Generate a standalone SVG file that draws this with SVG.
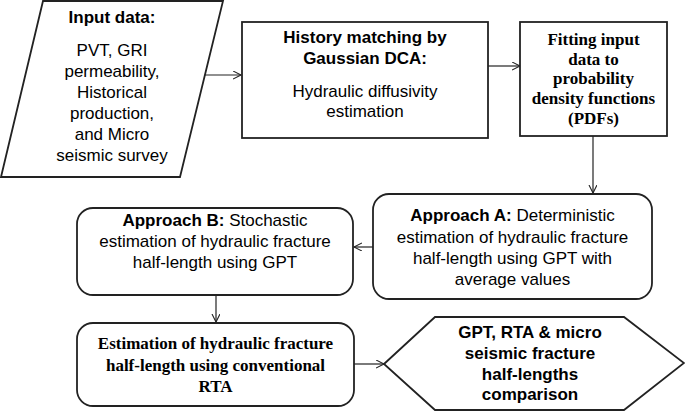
<svg xmlns="http://www.w3.org/2000/svg" width="685" height="412" viewBox="0 0 685 412">
<defs>
<marker id="arr" markerWidth="10" markerHeight="10" refX="8" refY="4" orient="auto" markerUnits="userSpaceOnUse">
<path d="M0,0 L8,4 L0,8" fill="none" stroke="#222" stroke-width="1.1"/>
</marker>
<style>
.box{fill:#fff;stroke:#222;stroke-width:1.8}
.con{fill:none;stroke:#222;stroke-width:1.2;marker-end:url(#arr)}
.a{font-family:"Liberation Sans",Arial,sans-serif;font-size:17px;fill:#000;text-anchor:middle}
.ab{font-family:"Liberation Sans",Arial,sans-serif;font-size:17px;font-weight:bold;fill:#000;text-anchor:middle}
.t{font-family:"Liberation Serif","Times New Roman",serif;font-size:17px;font-weight:bold;fill:#000;text-anchor:middle}
</style>
</defs>
<rect width="685" height="412" fill="#fff"/>
<g id="connectors">
<line class="con" x1="205" y1="75" x2="241" y2="75"/>
<line class="con" x1="488" y1="66" x2="520" y2="66"/>
<line class="con" x1="593" y1="136" x2="593" y2="193"/>
<line class="con" x1="373" y1="247" x2="354" y2="247"/>
<line class="con" x1="216" y1="295" x2="216" y2="322"/>
<line class="con" x1="354" y1="364" x2="384" y2="364"/>
</g>
<g id="input">
<polygon class="box" points="43,1 223,1 180,177 1,177"/>
<text class="ab" x="112" y="23">Input data:</text>
<text class="a" x="112" y="56">PVT, GRI</text>
<text class="a" x="112" y="77">permeability,</text>
<text class="a" x="112" y="98">Historical</text>
<text class="a" x="112" y="119">production,</text>
<text class="a" x="112" y="140">and Micro</text>
<text class="a" x="112" y="161">seismic survey</text>
</g>
<g id="history">
<rect class="box" x="242" y="22" width="246" height="116"/>
<text class="ab" x="365" y="43">History matching by</text>
<text class="ab" x="365" y="64">Gaussian DCA:</text>
<text class="a" x="365" y="97">Hydraulic diffusivity</text>
<text class="a" x="365" y="117">estimation</text>
</g>
<g id="pdf">
<rect class="box" x="520" y="22" width="147" height="114"/>
<text class="t" x="593.5" y="45">Fitting input</text>
<text class="t" x="593.5" y="65">data to</text>
<text class="t" x="593.5" y="84">probability</text>
<text class="t" x="593.5" y="104">density functions</text>
<text class="t" x="593.5" y="124">(PDFs)</text>
</g>
<g id="approachA">
<rect class="box" x="373" y="194" width="279" height="105" rx="16" ry="16"/>
<text class="a" x="512.5" y="221"><tspan font-weight="bold">Approach A:</tspan> Deterministic</text>
<text class="a" x="512.5" y="243">estimation of hydraulic fracture</text>
<text class="a" x="512.5" y="264">half-length using GPT with</text>
<text class="a" x="512.5" y="285">average values</text>
</g>
<g id="approachB">
<rect class="box" x="77" y="208" width="276" height="87" rx="16" ry="16"/>
<text class="a" x="215" y="226"><tspan font-weight="bold">Approach B:</tspan> Stochastic</text>
<text class="a" x="215" y="247">estimation of hydraulic fracture</text>
<text class="a" x="215" y="268">half-length using GPT</text>
</g>
<g id="rta">
<rect class="box" x="77" y="323" width="277" height="83" rx="16" ry="16"/>
<text class="t" x="215.5" y="349">Estimation of hydraulic fracture</text>
<text class="t" x="215.5" y="371">half-length using conventional</text>
<text class="t" x="215.5" y="392">RTA</text>
</g>
<g id="comparison">
<polygon class="box" points="384,364 435,317 624,317 684,363 624,410 435,410"/>
<text class="ab" x="530" y="338">GPT, RTA &amp; micro</text>
<text class="ab" x="530" y="359">seismic fracture</text>
<text class="ab" x="530" y="380">half-lengths</text>
<text class="ab" x="530" y="400">comparison</text>
</g>
</svg>
